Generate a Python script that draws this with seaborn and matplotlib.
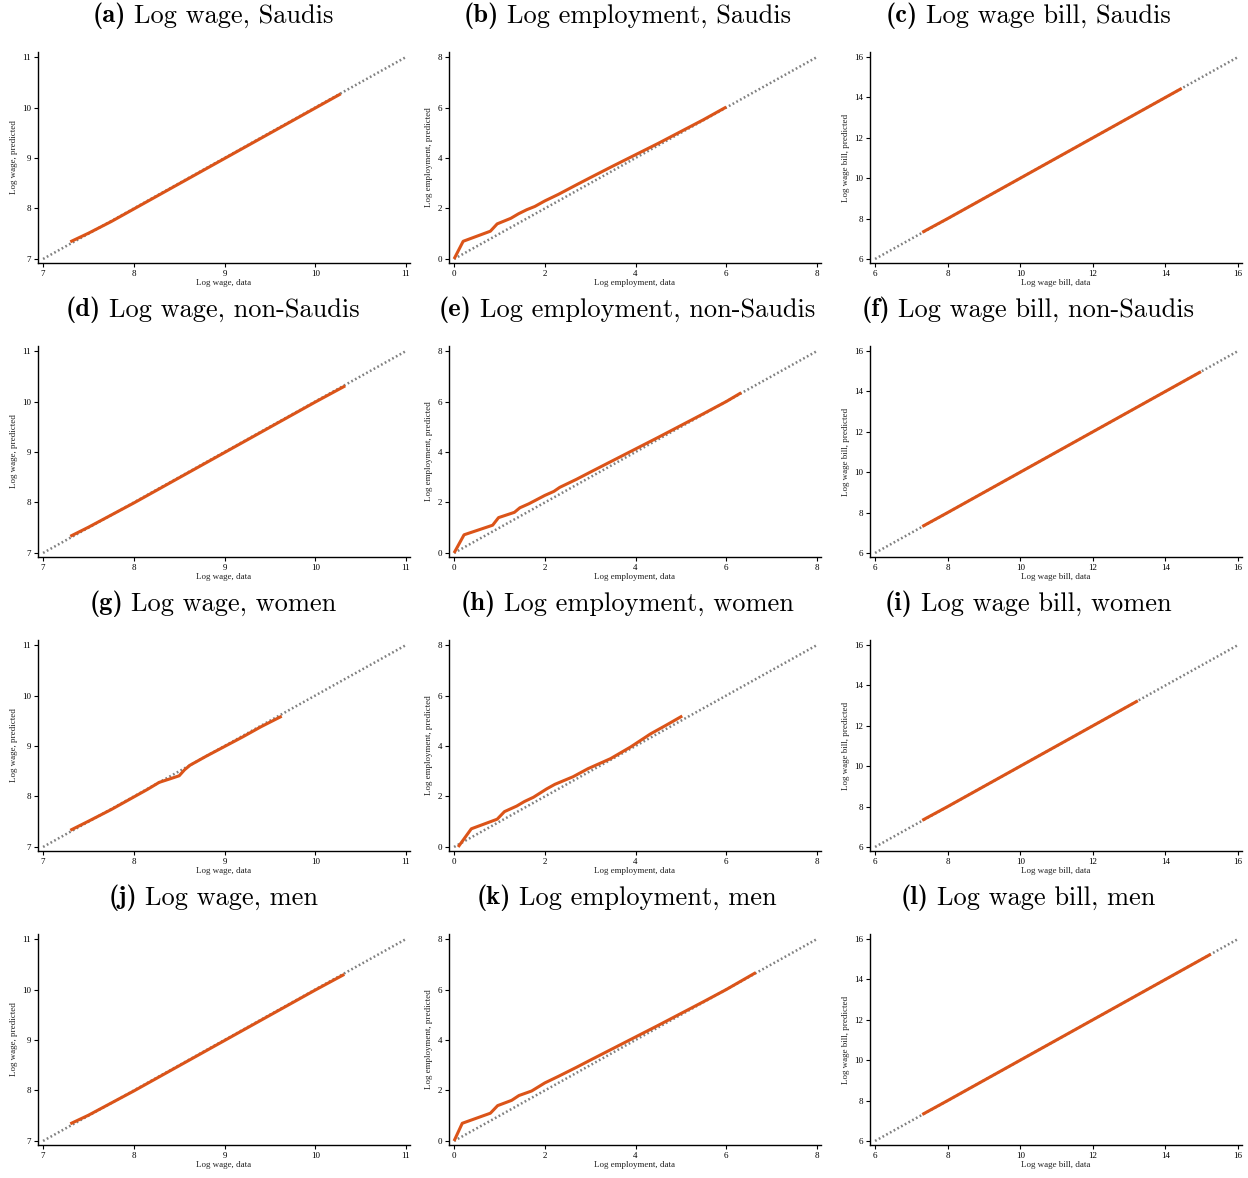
import matplotlib
matplotlib.use("Agg")
import matplotlib.pyplot as plt
import seaborn as sns
import pandas as pd

sns.set_theme(style="ticks")
plt.rcParams["font.family"] = ["Liberation Serif", "DejaVu Serif"]
plt.rcParams["text.color"] = "black"
plt.rcParams["axes.labelcolor"] = "#222222"
plt.rcParams["xtick.color"] = "black"
plt.rcParams["ytick.color"] = "black"

# ---- panel titles -------------------------------------------------------
letters = ["a", "b", "c", "d", "e", "f", "g", "h", "i", "j", "k", "l"]
titles = [
    "Log wage, Saudis", "Log employment, Saudis", "Log wage bill, Saudis",
    "Log wage, non-Saudis", "Log employment, non-Saudis", "Log wage bill, non-Saudis",
    "Log wage, women", "Log employment, women", "Log wage bill, women",
    "Log wage, men", "Log employment, men", "Log wage bill, men",
]

# ---- axis setup per column (wage, employment, wage bill) -----------------
var_names = ["Log wage", "Log employment", "Log wage bill"]
diag_ends = [[7, 11], [0, 8], [6, 16]]
tick_values = [[7, 8, 9, 10, 11], [0, 2, 4, 6, 8], [6, 8, 10, 12, 14, 16]]

# ---- predicted vs. data curves ------------------------------------------
wage_saudi_x = [7.30, 7.50, 7.75, 8.00, 8.25, 8.50, 8.75, 9.00, 9.25, 9.50, 9.75, 10.00, 10.28]
wage_saudi_y = [7.34, 7.51, 7.74, 7.99, 8.24, 8.49, 8.74, 8.99, 9.24, 9.49, 9.74, 9.99, 10.27]

emp_saudi_x = [0.00, 0.20, 0.80, 0.95, 1.25, 1.42, 1.60, 1.78, 2.00, 2.30, 2.70, 3.00, 3.50, 4.00, 4.50, 5.00, 5.50, 6.00]
emp_saudi_y = [0.00, 0.70, 1.10, 1.39, 1.61, 1.79, 1.95, 2.08, 2.30, 2.56, 2.94, 3.22, 3.68, 4.13, 4.58, 5.05, 5.52, 6.02]

bill_saudi_x = [7.30, 8.00, 9.00, 10.00, 11.00, 12.00, 13.00, 14.00, 14.45]
bill_saudi_y = [7.32, 8.00, 9.00, 10.00, 11.00, 12.00, 13.00, 14.00, 14.45]

wage_nonsaudi_x = [7.30, 7.50, 7.75, 8.00, 8.25, 8.50, 8.75, 9.00, 9.25, 9.50, 9.75, 10.00, 10.33]
wage_nonsaudi_y = [7.33, 7.51, 7.75, 7.99, 8.24, 8.49, 8.74, 8.99, 9.24, 9.49, 9.74, 9.99, 10.31]

emp_nonsaudi_x = [0.00, 0.22, 0.85, 0.98, 1.33, 1.45, 1.65, 2.00, 2.20, 2.33, 2.70, 3.00, 3.50, 4.00, 4.50, 5.00, 5.50, 6.00, 6.33]
emp_nonsaudi_y = [0.00, 0.72, 1.10, 1.40, 1.61, 1.79, 1.95, 2.28, 2.44, 2.60, 2.92, 3.20, 3.66, 4.12, 4.58, 5.05, 5.52, 6.00, 6.35]

bill_nonsaudi_x = [7.30, 8.00, 9.00, 10.00, 11.00, 12.00, 13.00, 14.00, 14.98]
bill_nonsaudi_y = [7.31, 8.00, 9.00, 10.00, 11.00, 12.00, 13.00, 14.00, 14.98]

wage_women_x = [7.30, 7.50, 7.75, 8.00, 8.15, 8.28, 8.40, 8.50, 8.56, 8.62, 8.80, 9.00, 9.20, 9.40, 9.63]
wage_women_y = [7.33, 7.51, 7.74, 7.99, 8.14, 8.28, 8.35, 8.41, 8.53, 8.62, 8.80, 8.99, 9.18, 9.38, 9.59]

emp_women_x = [0.09, 0.38, 0.95, 1.11, 1.38, 1.55, 1.75, 2.04, 2.22, 2.62, 2.95, 3.45, 3.89, 4.33, 4.70, 5.03]
emp_women_y = [0.00, 0.72, 1.10, 1.40, 1.62, 1.80, 1.97, 2.30, 2.48, 2.78, 3.10, 3.50, 3.96, 4.48, 4.85, 5.19]

bill_women_x = [7.30, 8.00, 9.00, 10.00, 11.00, 12.00, 13.00, 13.24]
bill_women_y = [7.32, 8.00, 9.00, 10.00, 11.00, 12.00, 13.00, 13.24]

wage_men_x = [7.30, 7.50, 7.75, 8.00, 8.25, 8.50, 8.75, 9.00, 9.25, 9.50, 9.75, 10.00, 10.32]
wage_men_y = [7.34, 7.51, 7.75, 7.99, 8.24, 8.49, 8.74, 8.99, 9.24, 9.49, 9.74, 9.99, 10.30]

emp_men_x = [0.00, 0.18, 0.80, 0.96, 1.27, 1.43, 1.71, 2.00, 2.30, 2.70, 3.00, 3.50, 4.00, 4.50, 5.00, 5.50, 6.00, 6.65]
emp_men_y = [0.00, 0.70, 1.10, 1.40, 1.61, 1.80, 1.98, 2.30, 2.56, 2.92, 3.20, 3.66, 4.12, 4.58, 5.05, 5.52, 6.00, 6.67]

bill_men_x = [7.30, 8.00, 9.00, 10.00, 11.00, 12.00, 13.00, 14.00, 15.25]
bill_men_y = [7.31, 8.00, 9.00, 10.00, 11.00, 12.00, 13.00, 14.00, 15.25]

series = [
    (wage_saudi_x, wage_saudi_y), (emp_saudi_x, emp_saudi_y), (bill_saudi_x, bill_saudi_y),
    (wage_nonsaudi_x, wage_nonsaudi_y), (emp_nonsaudi_x, emp_nonsaudi_y), (bill_nonsaudi_x, bill_nonsaudi_y),
    (wage_women_x, wage_women_y), (emp_women_x, emp_women_y), (bill_women_x, bill_women_y),
    (wage_men_x, wage_men_y), (emp_men_x, emp_men_y), (bill_men_x, bill_men_y),
]

LINE_COLOR = "#DB5419"
DIAG_COLOR = "#808080"
TITLE_SIZE = 19

fig = plt.figure(figsize=(12.48, 11.78), dpi=100)
W, H = 1248.0, 1178.0
col_left = [38, 449, 870]
col_title_x = [213, 627, 1028]
ax_w = 372
ax_top0, ax_bot0 = 52, 263
row_step = 294

title_parts = []
for i, (xs, ys) in enumerate(series):
    r, c = divmod(i, 3)
    top = ax_top0 + r * row_step
    bot = ax_bot0 + r * row_step
    ax = fig.add_axes([col_left[c] / W, 1 - bot / H, ax_w / W, (bot - top) / H])

    d0, d1 = diag_ends[c]
    diag = pd.DataFrame({"x": diag_ends[c], "y": diag_ends[c]})
    sns.lineplot(data=diag, x="x", y="y", ax=ax, color=DIAG_COLOR,
                 linewidth=1.8, linestyle=(0, (0.7, 1.0)), zorder=2)

    df = pd.DataFrame({"x": xs, "y": ys})
    sns.lineplot(data=df, x="x", y="y", ax=ax, color=LINE_COLOR,
                 linewidth=2.2, sort=False, zorder=3,
                 solid_capstyle="butt")

    span = d1 - d0
    ax.set_xlim(d0 - 0.014 * span, d1 + 0.011 * span)
    ax.set_ylim(d0 - 0.02 * span, d1 + 0.025 * span)
    ax.set_xticks(tick_values[c])
    ax.set_yticks(tick_values[c])
    ax.set_xlabel(f"{var_names[c]}, data", fontsize=6.5, labelpad=1)
    ax.set_ylabel(f"{var_names[c]}, predicted", fontsize=6.5, labelpad=3)
    ax.tick_params(axis="both", labelsize=6.5, length=3, width=0.8,
                   direction="out", pad=2, color="black")
    sns.despine(ax=ax)
    for s in ("left", "bottom"):
        ax.spines[s].set_linewidth(1.0)
        ax.spines[s].set_color("black")

    # bold panel letter followed by the roman caption
    ty = 1 - (16 + r * row_step) / H
    t_bold = fig.text(0, ty, f"({letters[i]})", ha="left", va="center",
                      fontsize=TITLE_SIZE, family="cmb10", color="black")
    t_rest = fig.text(0, ty, titles[i], ha="left", va="center",
                      fontsize=TITLE_SIZE, family="cmr10", color="black")
    title_parts.append((t_bold, t_rest, col_title_x[c]))

# centre each two-part title over its panel
renderer = fig.canvas.get_renderer()
gap = 8
for t_bold, t_rest, cx in title_parts:
    wb = t_bold.get_window_extent(renderer).width
    wr = t_rest.get_window_extent(renderer).width
    total = wb + gap + wr
    x0 = cx - total / 2
    t_bold.set_x(x0 / W)
    t_rest.set_x((x0 + wb + gap) / W)

fig.savefig("out.png", dpi=100)
